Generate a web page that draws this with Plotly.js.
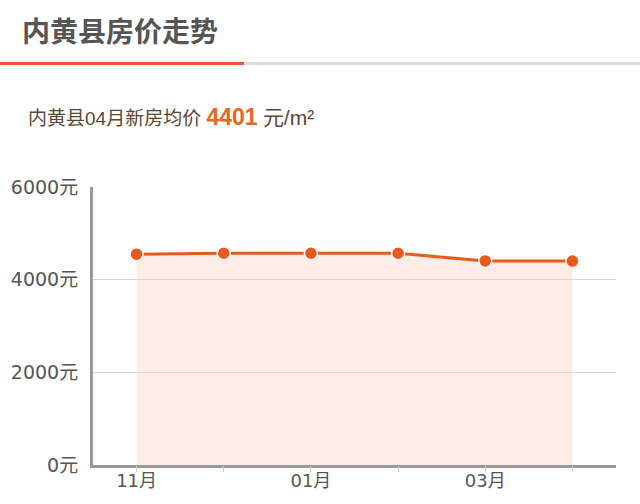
<!DOCTYPE html>
<html>
<head>
<meta charset="utf-8">
<script src="https://cdn.plot.ly/plotly-3.0.1.min.js"></script>
<style>
  html, body { margin: 0; padding: 0; background: #fff; }
  #chart { width: 640px; height: 504px; }
</style>
</head>
<body>
<div id="chart"></div>
<script>
// monthly average new-home price, 内黄县
var months = ["11月", "12月", "01月", "02月", "03月", "04月"];
var tickLabels = ["11月", "", "01月", "", "03月", ""];
var prices = [4550, 4570, 4570, 4570, 4405, 4401];
var yTicks = [0, 2000, 4000, 6000];
var yTickLabels = ["0元", "2000元", "4000元", "6000元"];

var W = 640, H = 504;
var M = { l: 93, r: 24, t: 187, b: 39 };
var plotW = W - M.l - M.r;
var plotH = H - M.t - M.b;

// pixel -> paper helpers for header decorations
function px(x) { return (x - M.l) / plotW; }
function py(y) { return (H - M.b - y) / plotH; }

var orange = "#e85a1c";
var cjk = "'Noto Sans CJK SC', 'Noto Sans', sans-serif";
var tickFamily = "'DejaVu Sans', " + cjk;

var trace = {
  type: "scatter",
  mode: "lines+markers",
  x: months,
  y: prices,
  fill: "tozeroy",
  fillcolor: "rgba(250, 215, 198, 0.45)",
  line: { color: orange, width: 3 },
  marker: { color: orange, size: 13, line: { color: "#fff", width: 1.5 } },
  hoverinfo: "x+y"
};

// invisible helper trace on the overlay axis that carries the tick marks
var tickTrace = {
  type: "scatter",
  mode: "none",
  x: months,
  y: prices,
  xaxis: "x2",
  hoverinfo: "skip"
};

var layout = {
  width: W,
  height: H,
  margin: M,
  paper_bgcolor: "#fff",
  plot_bgcolor: "#fff",
  showlegend: false,
  font: { family: cjk, color: "#555" },
  xaxis: {
    type: "category",
    range: [-0.5, 5.5],
    tickvals: months,
    ticktext: tickLabels,
    ticks: "",
    ticklabelstandoff: -3,
    showgrid: false,
    showline: true,
    linecolor: "#999",
    linewidth: 3,
    zeroline: false,
    tickfont: { size: 18, color: "#555", family: tickFamily },
    fixedrange: true
  },
  xaxis2: {
    type: "category",
    overlaying: "x",
    side: "bottom",
    anchor: "y",
    range: [-0.5, 5.5],
    tickvals: months,
    showticklabels: false,
    ticks: "outside",
    ticklen: 6,
    tickcolor: "#ccc",
    tickwidth: 1,
    showgrid: false,
    showline: false,
    zeroline: false,
    fixedrange: true
  },
  yaxis: {
    range: [0, 6000],
    tickvals: yTicks,
    ticktext: yTickLabels,
    ticks: "",
    ticklabelstandoff: 8,
    showgrid: true,
    gridcolor: "#d6d6d6",
    gridwidth: 1,
    showline: true,
    linecolor: "#999",
    linewidth: 3,
    zeroline: false,
    tickfont: { size: 19, color: "#555", family: tickFamily },
    fixedrange: true
  },
  title: {
    text: "<b>内黄县房价走势</b>",
    xref: "container",
    yref: "container",
    x: 22 / W,
    xanchor: "left",
    y: 1 - 32 / H,
    yanchor: "middle",
    font: { size: 28, color: "#555", family: cjk }
  },
  annotations: [
    {
      xref: "paper", yref: "paper",
      x: px(26), y: py(117),
      xanchor: "left", yanchor: "middle",
      showarrow: false,
      text: "内黄县04月新房均价 <b><span style='color:#e8661d;font-size:23px'>4401</span></b> <span style='font-size:21px'>元/m²</span>",
      font: { size: 19, color: "#5b4636", family: "'Liberation Sans', " + cjk }
    }
  ],
  shapes: [
    {
      type: "line", xref: "paper", yref: "paper",
      x0: px(244), x1: px(640), y0: py(63.5), y1: py(63.5),
      line: { color: "#ddd", width: 3 }
    },
    {
      type: "line", xref: "paper", yref: "paper",
      x0: px(0), x1: px(244), y0: py(63.5), y1: py(63.5),
      line: { color: "#e8572a", width: 3 }
    }
  ]
};

Plotly.newPlot("chart", [trace, tickTrace], layout, { displayModeBar: false, staticPlot: true });
</script>
</body>
</html>
